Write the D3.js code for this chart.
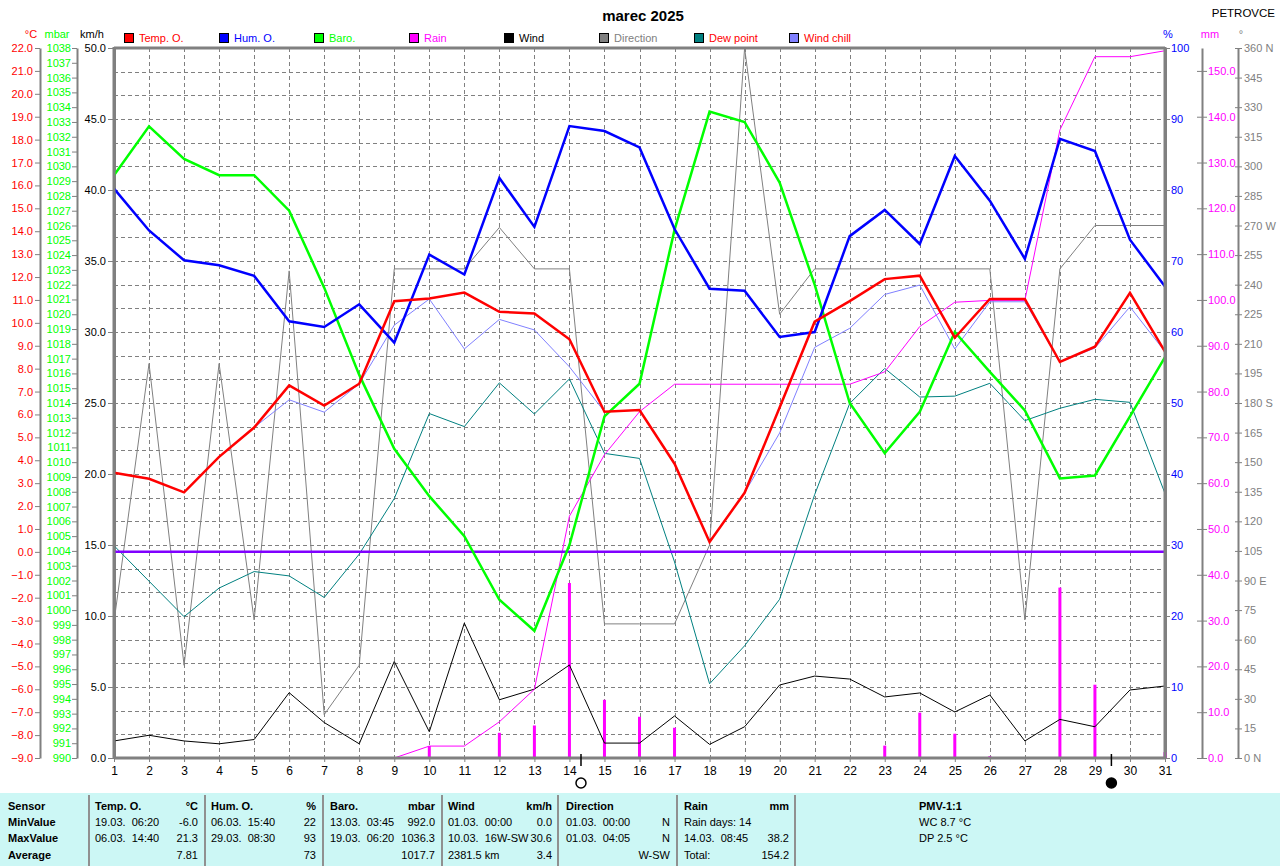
<!DOCTYPE html>
<html>
<head>
<meta charset="utf-8">
<script src="https://cdn.jsdelivr.net/npm/d3@7"></script>
<style>
  html, body { margin: 0; padding: 0; background: #ffffff; }
  svg { display: block; font-family: "Liberation Sans", Arial, sans-serif; }
  text { white-space: pre; }
</style>
</head>
<body>
<svg id="chart" width="1280" height="866"></svg>
<script>
// ---------------- DATA ----------------
const days = [1,2,3,4,5,6,7,8,9,10,11,12,13,14,15,16,17,18,19,20,21,22,23,24,25,26,27,28,29,30,31];
const tempO = [3.45,3.19,2.60,4.15,5.43,7.27,6.39,7.34,10.94,11.06,11.32,10.48,10.41,9.28,6.12,6.19,3.85,0.43,2.58,6.30,10.05,10.95,11.91,12.06,9.35,11.04,11.04,8.29,8.96,11.31,8.74];
const humO = [80.2,74.3,70.1,69.4,67.9,61.5,60.7,63.9,58.5,70.9,68.1,81.7,74.8,89.0,88.3,86.0,74.5,66.1,65.8,59.3,60.0,73.5,77.2,72.4,84.8,78.5,70.3,87.2,85.5,73.0,66.4];
const baro = [1029.4,1032.7,1030.5,1029.4,1029.4,1027.0,1021.8,1015.9,1010.9,1007.7,1005.0,1000.7,998.6,1004.4,1013.1,1015.3,1025.7,1033.7,1033.0,1028.9,1022.0,1014.0,1010.6,1013.4,1018.8,1016.1,1013.5,1008.9,1009.1,1013.1,1017.1];
const rainDaily = [0,0,0,0,0,0,0,0,0,2.6,0,5.5,7.1,38.2,12.7,9.0,6.6,0,0,0,0,0,2.7,9.9,5.3,0.4,0,37.2,16.0,0,1.3];
const rainCum = [null,null,null,null,null,null,null,null,0,2.6,2.6,7.9,15.0,52.8,66.2,75.6,81.6,81.6,81.6,81.6,81.6,81.6,84.3,94.2,99.5,99.9,99.9,137.1,153.1,153.1,154.4];
const wind = [1.2,1.6,1.2,1.0,1.3,4.6,2.5,1.0,6.8,1.85,9.5,4.1,4.85,6.55,1.05,1.05,2.96,0.96,2.2,5.14,5.77,5.56,4.3,4.58,3.24,4.44,1.2,2.72,2.2,4.79,5.07];
const direction = [69,200,47,200,70,247,22,47,248,248,248,269,248,248,68,68,68,108,360,225,248,248,248,248,248,248,70,248,270,270,270];
const dewPoint = [0.27,-1.28,-2.83,-1.58,-0.86,-1.05,-1.99,-0.10,2.33,6.04,5.47,7.38,6.02,7.55,4.30,4.08,-0.44,-5.76,-4.10,-2.07,2.50,6.48,8.01,6.76,6.80,7.36,5.73,6.27,6.66,6.53,2.55];
const windChill = [3.45,3.19,2.60,4.15,5.43,6.64,6.10,7.34,9.90,11.04,8.86,10.15,9.69,8.08,6.12,6.19,3.85,0.43,2.58,5.19,8.93,9.76,11.24,11.65,8.86,10.92,10.92,8.29,8.90,10.70,8.74];

const moonPhases = [{day: 14.33, type: "full"}, {day: 29.47, type: "new"}];

const legendItems = [
  {name: "Temp. O.", box: "#ff0000", text: "#ff0000"},
  {name: "Hum. O.", box: "#0000ff", text: "#0000ff"},
  {name: "Baro.", box: "#00ff00", text: "#00ff00"},
  {name: "Rain", box: "#ff00ff", text: "#ff00ff"},
  {name: "Wind", box: "#000000", text: "#000000"},
  {name: "Direction", box: "#808080", text: "#808080"},
  {name: "Dew point", box: "#008080", text: "#ff0000"},
  {name: "Wind chill", box: "#8080ff", text: "#ff0000"}
];

const dirLabels = {0: "0 N", 90: "90 E", 180: "180 S", 270: "270 W", 360: "360 N"};

const tableRowLabels = ["Sensor", "MinValue", "MaxValue", "Average"];
const tableCols = [
  {head: "Temp. O.", unit: "°C", rows: [["19.03.  06:20", "-6.0"], ["06.03.  14:40", "21.3"], ["", "7.81"]]},
  {head: "Hum. O.", unit: "%", rows: [["06.03.  15:40", "22"], ["29.03.  08:30", "93"], ["", "73"]]},
  {head: "Baro.", unit: "mbar", rows: [["13.03.  03:45", "992.0"], ["19.03.  06:20", "1036.3"], ["", "1017.7"]]},
  {head: "Wind", unit: "km/h", rows: [["01.03.  00:00", "0.0"], ["10.03.  16W-SW", "30.6"], ["2381.5 km", "3.4"]]},
  {head: "Direction", unit: "", rows: [["01.03.  00:00", "N"], ["01.03.  04:05", "N"], ["", "W-SW"]]},
  {head: "Rain", unit: "mm", rows: [["Rain days: 14", ""], ["14.03.  08:45", "38.2"], ["Total:", "154.2"]]}
];
const pmvLines = ["PMV-1:1", "WC 8.7 °C", "DP 2.5 °C"];

// ---------------- LAYOUT ----------------
const svg = d3.select("#chart");
const L = 114, R = 1165, T = 48, B = 758;
const FONT = 11;

const x = d3.scaleLinear().domain([1, 31]).range([L, R]);
const yTemp = d3.scaleLinear().domain([-9, 22]).range([B, T]);
const yBaro = d3.scaleLinear().domain([990, 1038]).range([B, T]);
const yWind = d3.scaleLinear().domain([0, 50]).range([B, T]);
const yHum = d3.scaleLinear().domain([0, 100]).range([B, T]);
const yRain = d3.scaleLinear().domain([0, 155]).range([B, T]);
const yDir = d3.scaleLinear().domain([0, 360]).range([B, T]);

// Title
svg.append("text").attr("x", 643).attr("y", 21).attr("text-anchor", "middle")
  .attr("font-size", 15).attr("font-weight", "bold").text("marec 2025");
svg.append("text").attr("x", 1275).attr("y", 17).attr("text-anchor", "end").attr("font-size", 11.5).text("PETROVCE");

// Unit labels
const units = [
  {t: "°C", x: 31, c: "#ff0000"},
  {t: "mbar", x: 57, c: "#00ff00"},
  {t: "km/h", x: 92, c: "#000000"},
  {t: "%", x: 1168, c: "#0000ff"},
  {t: "mm", x: 1210, c: "#ff00ff"},
  {t: "°", x: 1241, c: "#808080"}
];
units.forEach(u => svg.append("text").attr("x", u.x).attr("y", 38).attr("text-anchor", "middle")
  .attr("font-size", FONT).attr("fill", u.c).text(u.t));

// Legend
const legend = svg.append("g");
legendItems.forEach((it, i) => {
  const lx = 124 + i * 95;
  legend.append("rect").attr("x", lx + 0.5).attr("y", 33.5).attr("width", 9).attr("height", 9)
    .attr("fill", it.box).attr("stroke", "#000").attr("stroke-width", 1);
  legend.append("text").attr("x", lx + 15).attr("y", 42).attr("font-size", FONT)
    .attr("fill", it.text).text(it.name);
});

// Grid
const grid = svg.append("g").attr("stroke", "#808080").attr("stroke-dasharray", "4,3").attr("stroke-width", 1);
d3.range(1, 30).forEach(k => {
  const yy = Math.round(yWind(k * 50 / 30)) + 0.5;
  grid.append("line").attr("x1", L).attr("x2", R).attr("y1", yy).attr("y2", yy);
});
days.slice(1, 30).forEach(d => {
  const xx = Math.round(x(d)) + 0.5;
  grid.append("line").attr("x1", xx).attr("x2", xx).attr("y1", T).attr("y2", B);
});

// Axes helper
function styleAxis(g, color, lineColor, lineW) {
  g.selectAll("text").attr("fill", color).attr("font-size", FONT).attr("font-family", "Liberation Sans, Arial, sans-serif");
  g.selectAll(".tick line").attr("stroke", lineColor);
  g.select(".domain").attr("stroke", lineColor).attr("stroke-width", lineW);
}

// Temperature axis
const gT = svg.append("g").attr("transform", "translate(40,0)")
  .call(d3.axisLeft(yTemp).tickValues(d3.range(-9, 23, 1)).tickFormat(d3.format(".1f")).tickSize(5).tickPadding(2).tickSizeOuter(0));
styleAxis(gT, "#ff0000", "#808080", 2);
// Baro axis
const gB = svg.append("g").attr("transform", "translate(77,0)")
  .call(d3.axisLeft(yBaro).tickValues(d3.range(990, 1039, 1)).tickFormat(d3.format("d")).tickSize(5).tickPadding(1).tickSizeOuter(0));
styleAxis(gB, "#00ff00", "#808080", 2);
// Wind axis
const gW = svg.append("g").attr("transform", `translate(${L},0)`)
  .call(d3.axisLeft(yWind).tickValues(d3.range(0, 51, 5)).tickFormat(d3.format(".1f")).tickSize(6).tickPadding(2).tickSizeOuter(0));
styleAxis(gW, "#000000", "#808080", 3);
// Humidity axis
const gH = svg.append("g").attr("transform", `translate(${R},0)`)
  .call(d3.axisRight(yHum).tickValues(d3.range(0, 101, 10)).tickFormat(d3.format("d")).tickSize(5).tickPadding(1).tickSizeOuter(0));
styleAxis(gH, "#0000ff", "#808080", 3);
// Rain axis
const gR = svg.append("g").attr("transform", "translate(1202,0)")
  .call(d3.axisRight(yRain).tickValues(d3.range(0, 151, 10)).tickFormat(d3.format(".1f")).tickSize(5).tickPadding(1).tickSizeOuter(0));
styleAxis(gR, "#ff00ff", "#808080", 2);
gR.selectAll(".tick").append("line").attr("x1", -5).attr("x2", 0).attr("stroke", "#808080");
// Direction axis
const gD = svg.append("g").attr("transform", "translate(1238,0)")
  .call(d3.axisRight(yDir).tickValues(d3.range(0, 361, 15)).tickFormat(d => dirLabels[d] || String(d)).tickSize(4).tickPadding(2).tickSizeOuter(0));
styleAxis(gD, "#808080", "#808080", 2);
gD.selectAll(".tick").append("line").attr("x1", -3).attr("x2", 0).attr("stroke", "#808080");

// X axis labels
const gX = svg.append("g").attr("transform", `translate(0,${B})`)
  .call(d3.axisBottom(x).tickValues(days).tickFormat(d3.format("d")).tickSize(4).tickPadding(4).tickSizeOuter(0));
gX.selectAll("text").attr("fill", "#000").attr("font-size", 12).attr("font-family", "Liberation Sans, Arial, sans-serif");
gX.selectAll(".tick line").attr("stroke", "#808080");
gX.select(".domain").remove();

// Rain bars
svg.append("g").selectAll("line").data(days.filter((d, i) => rainDaily[i] > 0)).join("line")
  .attr("x1", d => x(d)).attr("x2", d => x(d))
  .attr("y1", B).attr("y2", d => yRain(rainDaily[d - 1]))
  .attr("stroke", "#ff00ff").attr("stroke-width", 3);

function drawLine(values, yScale, color, width) {
  const line = d3.line().defined(d => d[1] !== null).x(d => x(d[0])).y(d => yScale(d[1]));
  svg.append("path").datum(days.map((d, i) => [d, values[i]]))
    .attr("d", line).attr("fill", "none").attr("stroke", color).attr("stroke-width", width)
    .attr("stroke-linejoin", "miter");
}

drawLine(direction, yDir, "#808080", 1);
drawLine(wind, yWind, "#000000", 1);
drawLine(dewPoint, yTemp, "#008080", 1);
drawLine(rainCum, yRain, "#ff00ff", 1);
drawLine(windChill, yTemp, "#8080ff", 1);

// Zero-degree line
svg.append("line").attr("x1", L).attr("x2", R).attr("y1", yTemp(0)).attr("y2", yTemp(0))
  .attr("stroke", "#8000ff").attr("stroke-width", 2.5);

drawLine(baro, yBaro, "#00ff00", 2.5);
drawLine(humO, yHum, "#0000ff", 2.5);
drawLine(tempO, yTemp, "#ff0000", 2.5);

// Frame
const frame = svg.append("g").attr("stroke", "#808080").attr("stroke-width", 3);
frame.append("line").attr("x1", L).attr("x2", R).attr("y1", T).attr("y2", T);
frame.append("line").attr("x1", L).attr("x2", R + 1).attr("y1", B).attr("y2", B);
frame.append("line").attr("x1", L).attr("x2", L).attr("y1", T - 1).attr("y2", B + 1);
frame.append("line").attr("x1", R).attr("x2", R).attr("y1", T - 1).attr("y2", B + 1);

// Moon phases
moonPhases.forEach(m => {
  const mx = x(m.day);
  svg.append("line").attr("x1", mx).attr("x2", mx).attr("y1", 754).attr("y2", 766)
    .attr("stroke", "#000").attr("stroke-width", 1.5);
  svg.append("circle").attr("cx", mx).attr("cy", 783).attr("r", 5)
    .attr("fill", m.type === "new" ? "#000" : "#fff").attr("stroke", "#000").attr("stroke-width", 1.5);
});

// ---------------- TABLE ----------------
const tb = svg.append("g");
tb.append("rect").attr("x", 0).attr("y", 793).attr("width", 1280).attr("height", 73).attr("fill", "#ccf7f5");
const rowY = [810, 826, 842, 859];
tableRowLabels.forEach((t, i) => tb.append("text").attr("x", 8).attr("y", rowY[i])
  .attr("font-size", FONT).attr("font-weight", "bold").text(t));
const colStart = [95, 211, 330, 448, 566, 684];
const colRight = [198, 316, 435, 552, 670, 789];
const seps = [89, 205, 323, 442, 558, 677, 795];
seps.forEach(s => tb.append("line").attr("x1", s).attr("x2", s).attr("y1", 795).attr("y2", 866)
  .attr("stroke", "#909090").attr("stroke-width", 2));
tableCols.forEach((c, i) => {
  tb.append("text").attr("x", colStart[i]).attr("y", rowY[0]).attr("font-size", FONT).attr("font-weight", "bold").text(c.head);
  tb.append("text").attr("x", colRight[i]).attr("y", rowY[0]).attr("font-size", FONT).attr("font-weight", "bold")
    .attr("text-anchor", "end").text(c.unit);
  c.rows.forEach((r, j) => {
    tb.append("text").attr("x", colStart[i]).attr("y", rowY[j + 1]).attr("font-size", FONT).text(r[0]);
    tb.append("text").attr("x", colRight[i]).attr("y", rowY[j + 1]).attr("font-size", FONT)
      .attr("text-anchor", "end").text(r[1]);
  });
});
pmvLines.forEach((t, i) => tb.append("text").attr("x", 919).attr("y", rowY[i]).attr("font-size", FONT)
  .attr("font-weight", i === 0 ? "bold" : "normal").text(t));
</script>
</body>
</html>
